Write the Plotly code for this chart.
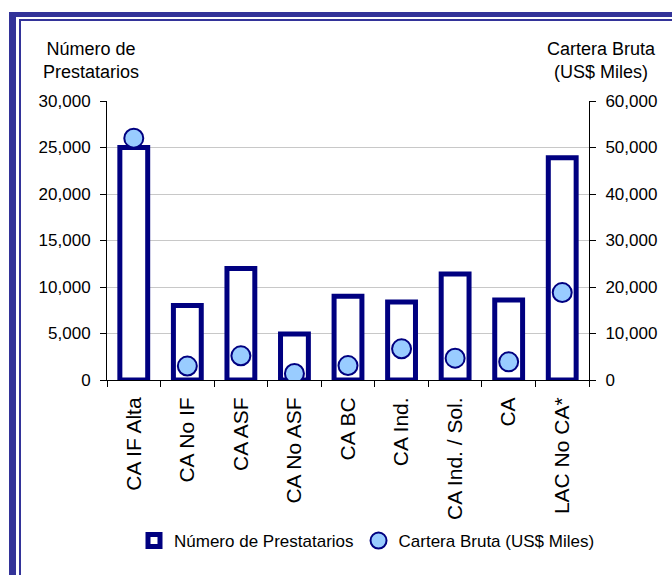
import plotly.graph_objects as go

# Categories and series
categorias = ["CA IF Alta", "CA No IF", "CA ASF", "CA No ASF", "CA BC",
              "CA Ind.", "CA Ind. / Sol.", "CA", "LAC No CA*"]
prestatarios = [25000, 8000, 12000, 4950, 9000, 8400, 11400, 8600, 23900]
cartera_bruta = [52000, 3000, 5200, 1400, 3100, 6700, 4700, 3900, 18800]

left_ticks = [0, 5000, 10000, 15000, 20000, 25000, 30000]
right_ticks = [0, 10000, 20000, 30000, 40000, 50000, 60000]

NAVY = "#000080"
FRAME = "#333399"
FONT = "Liberation Sans, Arial, sans-serif"

W, H = 672, 575
L, R, T, B = 107, 83, 101, 195
PW, PH = W - L - R, H - T - B


def px_x(px):
    return (px - L) / PW


def px_y(py):
    return (H - B - py) / PH


fig = go.Figure()

fig.add_trace(go.Bar(
    x=categorias, y=prestatarios, name="Número de Prestatarios",
    width=0.52,
    marker=dict(color="white", line=dict(color=NAVY, width=5)),
    yaxis="y",
))

fig.add_trace(go.Scatter(
    x=categorias, y=cartera_bruta, name="Cartera Bruta (US$ Miles)",
    mode="markers",
    marker=dict(size=19, color="#99CCFF", line=dict(color=NAVY, width=2)),
    yaxis="y2",
))

# Double frame along the top and left edges
shapes = [
    dict(type="rect", xref="paper", yref="paper", layer="below",
         x0=px_x(9), x1=px_x(700), y0=px_y(12), y1=px_y(17),
         fillcolor=FRAME, line=dict(width=0)),
    dict(type="rect", xref="paper", yref="paper", layer="below",
         x0=px_x(9), x1=px_x(16), y0=px_y(12), y1=px_y(700),
         fillcolor=FRAME, line=dict(width=0)),
    dict(type="rect", xref="paper", yref="paper", layer="below",
         x0=px_x(19), x1=px_x(700), y0=px_y(19), y1=px_y(21),
         fillcolor=FRAME, line=dict(width=0)),
    dict(type="rect", xref="paper", yref="paper", layer="below",
         x0=px_x(19), x1=px_x(21), y0=px_y(19), y1=px_y(700),
         fillcolor=FRAME, line=dict(width=0)),
]

annotations = [
    dict(text="Número de<br>Prestatarios", xref="paper", yref="paper",
         x=px_x(91), y=px_y(61), xanchor="center", yanchor="middle",
         showarrow=False, align="center",
         font=dict(family=FONT, size=18, color="black")),
    dict(text="Cartera Bruta<br>(US$ Miles)", xref="paper", yref="paper",
         x=px_x(601), y=px_y(61), xanchor="center", yanchor="middle",
         showarrow=False, align="center",
         font=dict(family=FONT, size=18, color="black")),
]

fig.update_layout(
    width=W, height=H,
    margin=dict(l=L, r=R, t=T, b=B, autoexpand=False),
    paper_bgcolor="white", plot_bgcolor="white",
    font=dict(family=FONT, color="black"),
    showlegend=True,
    legend=dict(orientation="h", x=px_x(367), y=px_y(541),
                xanchor="center", yanchor="middle",
                font=dict(family=FONT, size=17, color="black"),
                bgcolor="rgba(0,0,0,0)", itemwidth=30),
    xaxis=dict(
        type="category", range=[-0.5, len(categorias) - 0.5],
        tickangle=-90, showgrid=False, automargin=False,
        showline=True, linecolor="black", linewidth=1,
        ticks="outside", tickson="boundaries", ticklen=6, tickcolor="black",
        ticklabelstandoff=8,
        tickfont=dict(family=FONT, size=21, color="black"),
    ),
    yaxis=dict(
        range=[0, 30000], tickvals=left_ticks, tickformat=",", automargin=False,
        showgrid=True, gridcolor="#C8C8C8", gridwidth=1, zeroline=False,
        showline=True, linecolor="black", linewidth=1,
        ticks="outside", ticklen=6, tickcolor="black",
        ticklabelstandoff=6,
        tickfont=dict(family=FONT, size=17, color="black"),
    ),
    yaxis2=dict(
        range=[0, 60000], tickvals=right_ticks, tickformat=",", automargin=False,
        overlaying="y", side="right", showgrid=False, zeroline=False,
        showline=True, linecolor="black", linewidth=1,
        ticks="outside", ticklen=6, tickcolor="black",
        ticklabelstandoff=6,
        tickfont=dict(family=FONT, size=17, color="black"),
    ),
    shapes=shapes,
    annotations=annotations,
)

fig.write_html("out.html")
